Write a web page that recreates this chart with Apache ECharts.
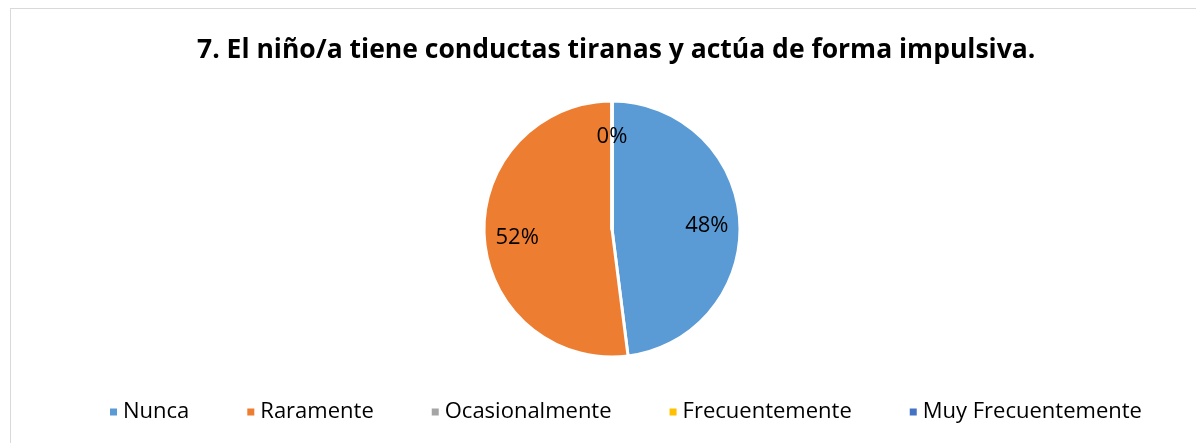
<html lang="es">
<head>
  <meta charset="UTF-8">
  <title>7. El niño/a tiene conductas tiranas</title>
  <style>
    *{
      margin: 0;
      padding: 0;
    }
    body{
      background: #ffffff;
    }
    #frame{
      position: absolute;
      left: 10px;
      top: 8px;
      width: 1200px;
      height: 450px;
      border: 1px solid #d9d9d9;
    }
    #main{
      position: absolute;
      left: 0;
      top: 0;
      width: 1196px;
      height: 443px;
    }
  </style>
</head>
<body>
  <div id="frame"></div>
  <div id="main"></div>

  <script src="https://cdn.jsdelivr.net/npm/echarts@6/dist/echarts.min.js"></script>
  <script type="text/javascript">
  // datos del gráfico
  var titulo = '7. El niño/a tiene conductas tiranas y actúa de forma impulsiva.'
  var categorias = ['Nunca', 'Raramente', 'Ocasionalmente', 'Frecuentemente', 'Muy Frecuentemente']
  var porcentajes = [48, 52, 0, 0, 0]
  var colores = ['#5B9BD5', '#ED7D31', '#A5A5A5', '#FFC000', '#4472C4']

  var datos = categorias.map(function (c, i) {
    return { name: c, value: porcentajes[i] }
  })

  var fuente = '"Open Sans", "Liberation Sans", sans-serif'

  var myChart = echarts.init(document.getElementById('main'))
  var option = {
    animation: false,
    color: colores,
    title: {
      text: titulo,
      left: 192,
      top: 32,
      textStyle: {
        fontFamily: fuente,
        fontWeight: 'bold',
        fontSize: 26.5,
        color: '#000000'
      }
    },
    legend: {
      bottom: 15,
      left: 103,
      itemWidth: 9,
      itemHeight: 9,
      itemGap: 56,
      icon: 'rect',
      textStyle: {
        fontFamily: fuente,
        fontSize: 22,
        color: '#000000'
      },
      data: categorias
    },
    series: [
      {
        // tarta
        type: 'pie',
        center: [612, 229],
        radius: [0, 128],
        startAngle: 90,
        clockwise: true,
        itemStyle: { borderColor: '#ffffff', borderWidth: 3 },
        label: { show: false },
        labelLine: { show: false },
        emphasis: { disabled: true },
        data: datos
      },
      {
        // sólo etiquetas, un poco más afuera del centro
        type: 'pie',
        center: [612, 232],
        radius: [56, 128],
        startAngle: 90,
        clockwise: true,
        silent: true,
        legendHoverLink: false,
        itemStyle: { color: 'transparent', borderWidth: 0 },
        label: {
          show: true,
          position: 'inside',
          formatter: '{c}%',
          fontFamily: fuente,
          fontSize: 22,
          color: '#000000'
        },
        labelLine: { show: false },
        emphasis: { disabled: true },
        data: datos
      }
    ]
  }
  myChart.setOption(option)
  </script>
</body>
</html>
